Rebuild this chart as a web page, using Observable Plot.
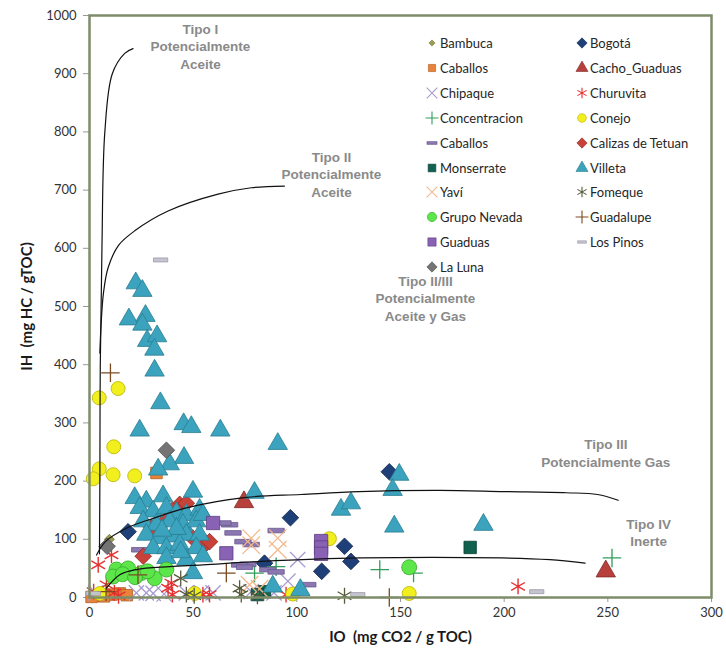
<!DOCTYPE html>
<html>
<head>
<meta charset="utf-8">
<script src="https://cdn.jsdelivr.net/npm/d3@7"></script>
<script src="https://cdn.jsdelivr.net/npm/@observablehq/plot@0.6"></script>
<style>
  html, body { margin: 0; padding: 0; background: #fff; }
  #wrap { position: relative; width: 726px; height: 652px; font-family: Lato, "Open Sans", sans-serif; }
  #wrap svg.chart { position: absolute; left: 0; top: 0; }
  g[aria-label="x-axis label"] text, g[aria-label="y-axis label"] text { font-weight: bold; font-size: 15px; fill: #1a1a1a; }
  g[aria-label="x-axis tick label"] text, g[aria-label="y-axis tick label"] text { font-size: 13px; fill: #333; }
  .leg { position: absolute; display: flex; align-items: center; height: 16px; font-size: 13px; color: #262626; white-space: nowrap; }
  .leg svg { margin-right: 1px; }
</style>
</head>
<body>
<div id="wrap"></div>
<script>
// ---------- data (IO, IH) ----------
const seriesNames = ["Bambuca","Bogotá","Caballos","Cacho_Guaduas","Chipaque","Churuvita","Concentracion","Conejo","Caballos","Calizas de Tetuan","Monserrate","Villeta","Yaví","Fomeque","Grupo Nevada","Guadalupe","Guaduas","Los Pinos","La Luna"];

const bambuca = [[9.6,100],[1,2],[4,6]];
const bogota = [[144.6,216],[96.9,137],[123,88],[126.1,62],[112,45],[84.4,59],[18.6,113]];
const caballos = [[32.3,214],[14.6,7],[10.6,5],[4,3],[18,4],[7,2],[1,1]];
const cachoGuaduas = [[74.5,164],[249,45]];
const chipaque = [[22.6,8],[27.4,8],[30.7,7],[46.7,8],[54,8],[59.6,8],[78,10],[95.7,28],[100.4,65],[89,8],[3,8],[36,6]];
const churuvita = [[4.2,56],[10.6,73],[8.2,22],[37.9,16],[39.5,25],[54.7,5],[57.9,5],[94.8,5],[206.7,19],[2,10],[12,8],[40,5],[14,3]];
const concentracion = [[90,53],[79.6,42],[140,48],[156.3,42],[252,68]];
const conejo = [[13.8,359],[4.7,343],[11.7,259],[4.7,221],[1.8,204],[11.4,211],[21.8,209],[115.7,101],[154.2,7],[50.7,7],[98,6],[5,7]];
const caballos2 = [[90,115],[78,91],[67.6,125],[69.2,111],[76.4,57],[86,48],[105.3,22],[90,44],[24.2,82],[72.4,56],[64.4,128],[74,96],[74.8,52]];
const calizas = [[43.5,160],[46.7,162],[36.3,131],[49.9,102],[56.3,93],[25.9,71],[57.9,96],[40,150],[30,120]];
const monserrate = [[183.6,86],[84.4,10],[81,5]];
const villeta = [[22.3,540],[25.5,527],[19,478],[27,484],[25.5,469],[27.8,441],[32.6,449],[31.3,426],[31.4,390],[34.2,334],[24.2,287],[45.4,298],[49.1,293],[63.1,287],[90.8,264],[45.6,240],[38.7,229],[33.1,220],
  [21.8,171],[27.4,165],[35.5,174],[49.9,182],[24.2,154],[30.7,148],[37.1,154],[41.9,145],[46.7,142],[53.1,151],[25.9,131],[32.3,125],[38.7,131],[45.1,125],[51.5,131],[27.4,108],[33.8,102],[40.3,105],[46.7,108],[53.1,108],[30.7,85],[37.1,85],[43.5,91],[51.5,85],[54.7,71],[37.1,68],[46.7,65],[49.9,42],[42,118],[35,115],[44,78],[54.7,142],
  [79.6,180],[121.3,151],[126.1,162],[149.4,211],[146.2,185],[147,122],[190,125],[88.4,19],[101.7,13]];
const yavi = [[78,102],[78,90],[90.8,102],[90.8,82],[77.2,22],[82,15]];
const fomeque = [[44,33],[46.7,5],[50.5,3],[72.4,16],[73.2,5],[81,2],[123,3]];
const grupoNevada = [[13,48],[18.6,50],[25,42],[31.4,33],[37.1,48],[11.4,36],[154.2,52],[16,40],[22,35],[28,45]];
const guadalupe = [[10.1,386],[66,42],[23.4,39],[144.6,0],[8,10]];
const guaduas = [[59.6,128],[66,76],[111.7,97],[111.7,86],[111.7,75]];
const losPinos = [[34.3,580],[129.4,5],[215.7,10],[1.8,7]];
const laLuna = [[37.1,253],[8.5,88]];

// kerogen-type boundary curves
const tipoI = [[4.8,75],[5,200],[5.2,400],[6,600],[7.4,800],[11,900],[17,935],[21,943]];
const tipoII = [[5,420],[5.6,470],[6.8,525],[9,567],[14,605],[21.8,630],[37.9,664],[62,693],[78,704],[94,707]];
const tipoIII = [[3.4,73],[7.7,96],[17.8,119],[30.7,136],[46.7,154],[75.6,172],[102,177],[130,182],[169,184],[200,182],[230,180],[245,177],[255,167]];
const tipoIV = [[8.2,16],[14.6,39],[22.6,48],[38.7,53],[54.7,56],[82.8,62],[131,68],[199,68],[222,65],[239,59]];

const xTicks = [0,50,100,150,200,250,300];
const yTicks = [0,100,200,300,400,500,600,700,800,900,1000];

const regionLabels = [
  {x: 53.5, y: 948, text: "Tipo I\nPotencialmente\nAceite"},
  {x: 116.7, y: 728, text: "Tipo II\nPotencialmente\nAceite"},
  {x: 162, y: 515, text: "Tipo II/III\nPotencialmente\nAceite y Gas"},
  {x: 249, y: 249, text: "Tipo III\nPotencialmente Gas"},
  {x: 269.7, y: 112, text: "Tipo IV\nInerte"}
];

// ---------- styles ----------
const dash = { draw(ctx, size) { const w = Math.sqrt(size) * 1.15, h = w * 0.28; ctx.rect(-w/2, -h/2, w, h); } };
const seriesData = [bambuca,bogota,caballos,cachoGuaduas,chipaque,churuvita,concentracion,conejo,caballos2,calizas,monserrate,villeta,yavi,fomeque,grupoNevada,guadalupe,guaduas,losPinos,laLuna];
const styles = [
  {sym: d3.symbolDiamond2, fill: "#9c9c52", stroke: "#707034", r: 4.5},
  {sym: d3.symbolDiamond2, fill: "#1e3f78", stroke: "#12284f", r: 7.5},
  {sym: d3.symbolSquare, fill: "#e8843a", stroke: "#b05a20", r: 6.5},
  {sym: d3.symbolTriangle, fill: "#b8403c", stroke: "#802a28", r: 7.2},
  {sym: d3.symbolTimes, stroke: "#a89cd0", r: 7, sw: 1.3},
  {sym: d3.symbolAsterisk, stroke: "#e53030", r: 7.5, sw: 1.4},
  {sym: d3.symbolPlus, stroke: "#2e9e5a", r: 6, sw: 1.3},
  {sym: d3.symbolCircle, fill: "#f2ef1e", stroke: "#b8b400", r: 7},
  {sym: dash, fill: "#8c78b0", stroke: "#6a5890", r: 8},
  {sym: d3.symbolDiamond2, fill: "#c8423a", stroke: "#8c2a24", r: 7.5},
  {sym: d3.symbolSquare, fill: "#12604f", stroke: "#0a3e33", r: 7},
  {sym: d3.symbolTriangle, fill: "#3ba3bd", stroke: "#2a7d92", r: 7.2},
  {sym: d3.symbolTimes, stroke: "#f2b98c", r: 8, sw: 1.3},
  {sym: d3.symbolAsterisk, stroke: "#555a3a", r: 7.5, sw: 1.3},
  {sym: d3.symbolCircle, fill: "#5ce64a", stroke: "#36a82a", r: 7.5},
  {sym: d3.symbolPlus, stroke: "#7a4a22", r: 6, sw: 1.3},
  {sym: d3.symbolSquare, fill: "#8a62b5", stroke: "#5c3d80", r: 7.5},
  {sym: dash, fill: "#c4c4d0", stroke: "#9a9aa8", r: 7},
  {sym: d3.symbolDiamond2, fill: "#747474", stroke: "#4e4e4e", r: 7.5}
];

const dotMarks = seriesData.map((data, i) => {
  const s = styles[i];
  return Plot.dot(data, {
    x: d => d[0], y: d => d[1], symbol: s.sym, r: s.r,
    fill: s.fill || "none", stroke: s.stroke, strokeWidth: s.sw || 0.8
  });
});

const curveMarks = [tipoI, tipoII, tipoIII, tipoIV].map(c =>
  Plot.line(c, {x: d => d[0], y: d => d[1], curve: "catmull-rom", stroke: "#111", strokeWidth: 1.2}));

const chart = Plot.plot({
  width: 726, height: 652,
  marginLeft: 89, marginRight: 15, marginTop: 15, marginBottom: 55,
  style: {fontFamily: "Lato, 'Open Sans', sans-serif", background: "#fff", overflow: "visible"},
  x: {domain: [0, 300]},
  y: {domain: [0, 1000]},
  marks: [
    Plot.axisX({ticks: xTicks, tickFormat: d => String(d), tickSize: 5, tickPadding: 5, stroke: "#999", label: "IO  (mg CO2 / g TOC)", labelAnchor: "center", labelOffset: 44, labelArrow: "none"}),
    Plot.axisY({ticks: yTicks, tickFormat: d => String(d), tickSize: 6, tickPadding: 7, stroke: "#999", label: "IH  (mg HC / gTOC)", labelAnchor: "center", labelOffset: 68, labelArrow: "none"}),
    ...dotMarks,
    ...curveMarks,
    Plot.text(regionLabels, {x: "x", y: "y", text: "text", fill: "#8a8a8a", fontWeight: "bold", fontSize: 13.5, lineHeight: 1.28, fontFamily: "'Liberation Sans', Arial, sans-serif"}),
    Plot.frame({stroke: "#7f8c6a", strokeWidth: 2.5})
  ]
});
chart.classList.add("chart");
const wrap = document.getElementById("wrap");
wrap.appendChild(chart);

// ---------- legend (HTML overlay) ----------
const colX = [425, 575];
const rowY0 = 35, rowStep = 24.9;
seriesNames.forEach((name, i) => {
  const s = styles[i];
  const item = document.createElement("div");
  item.className = "leg";
  item.style.left = colX[i % 2] + "px";
  item.style.top = (rowY0 + rowStep * Math.floor(i / 2)) + "px";
  const svg = d3.create("svg").attr("width", 14).attr("height", 14);
  const rr = s.sw ? Math.min(s.r * 0.7, 5) : Math.min(s.r * 0.62, 5);
  svg.append("path")
    .attr("transform", "translate(7,7)")
    .attr("d", d3.symbol(s.sym, Math.PI * rr * rr)())
    .attr("fill", s.fill || "none")
    .attr("stroke", s.stroke)
    .attr("stroke-width", s.sw ? 1.1 : 0.6);
  item.appendChild(svg.node());
  const t = document.createElement("span");
  t.textContent = name;
  item.appendChild(t);
  wrap.appendChild(item);
});
</script>
</body>
</html>
